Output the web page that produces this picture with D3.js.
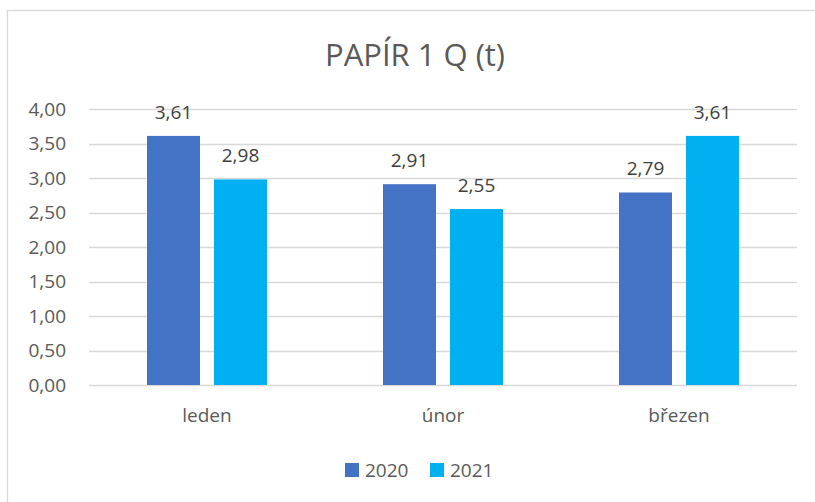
<!DOCTYPE html>
<html>
<head>
<meta charset="utf-8">
<script src="https://cdn.jsdelivr.net/npm/d3@7"></script>
<style>
  body { margin: 0; background: #fff; }
  text { font-family: "Open Sans", "Noto Sans", sans-serif; }
</style>
</head>
<body>
<svg id="chart" width="815" height="502"></svg>
<script>
const WIDTH = 815;
const HEIGHT = 502;

const categories = ['leden', 'únor', 'březen'];
const seriesNames = ['2020', '2021'];
const values2020 = [3.61, 2.91, 2.79];
const values2021 = [2.98, 2.55, 3.61];
const yTicks = [0, 0.5, 1, 1.5, 2, 2.5, 3, 3.5, 4];
const colors = ['#4472c4', '#00b0f0'];

const fmt = v => d3.format('.2f')(v).replace('.', ',');

const svg = d3.select('#chart');

// outer chart border (cut off at right and bottom edges)
svg.append('rect')
  .attr('x', 7.5).attr('y', 10.5)
  .attr('width', 830).attr('height', 520)
  .attr('fill', '#fff')
  .attr('stroke', '#d9d9d9')
  .attr('stroke-width', 1.3);

const plot = { left: 89, right: 797, top: 109, bottom: 385 };

const x = d3.scaleBand()
  .domain(categories)
  .range([plot.left, plot.right])
  .paddingInner(0)
  .paddingOuter(0);

// two bars per category, 53px wide with a 14px gap
const xSeries = d3.scaleBand()
  .domain(seriesNames)
  .range([58, x.bandwidth() - 58])
  .paddingInner(0.209);

const y = d3.scaleLinear()
  .domain([0, 4])
  .range([plot.bottom, plot.top]);

// grid
svg.append('g').selectAll('line')
  .data(yTicks)
  .enter()
  .append('line')
  .attr('x1', plot.left).attr('x2', plot.right)
  .attr('y1', d => Math.round(y(d)) + 0.5)
  .attr('y2', d => Math.round(y(d)) + 0.5)
  .attr('stroke', '#d9d9d9')
  .attr('stroke-width', 1.3);

// y labels
svg.append('g').selectAll('text')
  .data(yTicks)
  .enter()
  .append('text')
  .attr('x', 66)
  .attr('y', d => y(d))
  .attr('dy', '0.35em')
  .attr('text-anchor', 'end')
  .attr('font-size', 19)
  .attr('fill', '#595959')
  .text(d => fmt(d));

const series = [values2020, values2021];
const bars = [];
categories.forEach((c, i) => {
  seriesNames.forEach((s, j) => {
    bars.push({ cat: c, ser: s, val: series[j][i], color: colors[j] });
  });
});

svg.append('g').selectAll('rect')
  .data(bars)
  .enter()
  .append('rect')
  .attr('x', d => x(d.cat) + xSeries(d.ser))
  .attr('y', d => y(d.val))
  .attr('width', xSeries.bandwidth())
  .attr('height', d => y(0) - y(d.val))
  .attr('fill', d => d.color);

// data labels
svg.append('g').selectAll('text')
  .data(bars)
  .enter()
  .append('text')
  .attr('x', d => x(d.cat) + xSeries(d.ser) + xSeries.bandwidth() / 2)
  .attr('y', d => y(d.val) - 24)
  .attr('dy', '0.35em')
  .attr('text-anchor', 'middle')
  .attr('font-size', 19)
  .attr('fill', '#404040')
  .text(d => fmt(d.val));

// category labels
svg.append('g').selectAll('text')
  .data(categories)
  .enter()
  .append('text')
  .attr('x', d => x(d) + x.bandwidth() / 2)
  .attr('y', 415)
  .attr('dy', '0.35em')
  .attr('text-anchor', 'middle')
  .attr('font-size', 19)
  .attr('fill', '#595959')
  .text(d => d);

// title
svg.append('text')
  .attr('x', 415)
  .attr('y', 55)
  .attr('dy', '0.35em')
  .attr('text-anchor', 'middle')
  .attr('font-size', 31)
  .attr('fill', '#595959')
  .text('PAPÍR 1 Q (t)');

// legend
const legendX = [345, 430];
const legend = svg.append('g').selectAll('g')
  .data(seriesNames)
  .enter()
  .append('g')
  .attr('transform', (d, i) => `translate(${legendX[i]}, 470)`);

legend.append('rect')
  .attr('x', 0).attr('y', -7)
  .attr('width', 14).attr('height', 14)
  .attr('fill', (d, i) => colors[i]);

legend.append('text')
  .attr('x', 20)
  .attr('y', 0)
  .attr('dy', '0.35em')
  .attr('font-size', 19)
  .attr('fill', '#595959')
  .text(d => d);
</script>
</body>
</html>
